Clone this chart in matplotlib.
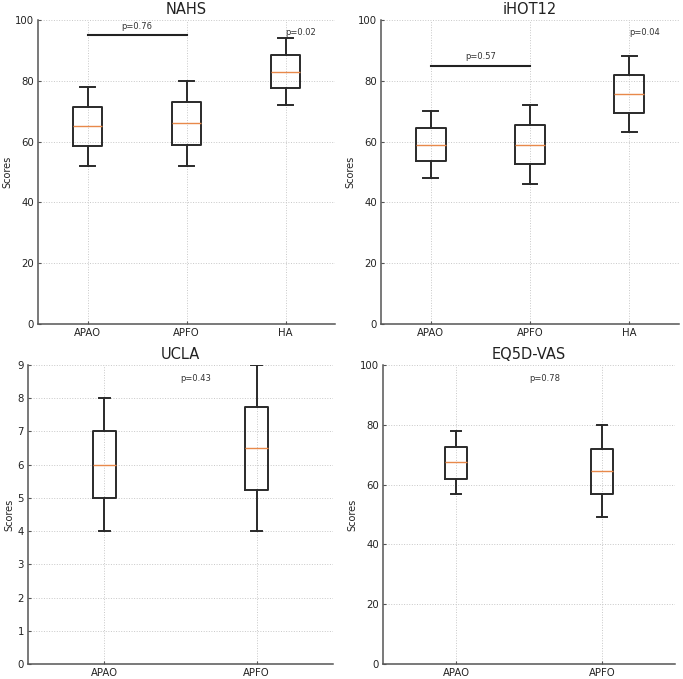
import matplotlib.pyplot as plt

# box stats: (whislo, q1, med, q3, whishi)
nahs_groups = ['APAO', 'APFO', 'HA']
nahs_stats = [(52, 58.5, 65, 71.5, 78), (52, 59, 66, 73, 80), (72, 77.5, 83, 88.5, 94)]
ihot_groups = ['APAO', 'APFO', 'HA']
ihot_stats = [(48, 53.5, 59, 64.5, 70), (46, 52.5, 59, 65.5, 72), (63, 69.5, 75.5, 82, 88)]
ucla_groups = ['APAO', 'APFO']
ucla_stats = [(4, 5, 6, 7, 8), (4, 5.25, 6.5, 7.75, 9)]
eq5d_groups = ['APAO', 'APFO']
eq5d_stats = [(57, 62, 67.5, 72.5, 78), (49, 57, 64.5, 72, 80)]

edge = '#2a2a2a'


def draw(ax, title, groups, stats, width, ylim, yticks):
    bxp = []
    for g, (lo, q1, med, q3, hi) in zip(groups, stats):
        bxp.append(dict(label=g, whislo=lo, q1=q1, med=med, q3=q3, whishi=hi, fliers=[]))
    ax.bxp(bxp, widths=width, showfliers=False,
           boxprops=dict(color=edge, linewidth=1.4),
           whiskerprops=dict(color=edge, linewidth=1.4),
           capprops=dict(color=edge, linewidth=1.4),
           medianprops=dict(color='#e8894a', linewidth=1.0))
    ax.set_title(title, fontsize=10.5, color='#222222', pad=4)
    ax.set_ylabel('Scores', fontsize=7, color='#222222', labelpad=2)
    ax.set_ylim(*ylim)
    ax.set_yticks(yticks)
    ax.grid(True, linestyle=':', color='#c8c8c8', linewidth=0.7)
    ax.set_axisbelow(True)
    for s in ['top', 'right']:
        ax.spines[s].set_visible(False)
    for s in ['left', 'bottom']:
        ax.spines[s].set_color('#555555')
        ax.spines[s].set_linewidth(1.1)
    ax.tick_params(direction='in', length=2, pad=3, labelsize=7.3, colors='#555555', labelcolor='#222222')


fig = plt.figure(figsize=(6.83, 6.79), dpi=100)
W, H = 683, 679
ax1 = fig.add_axes([38 / W, 1 - 324 / H, 297 / W, 304 / H])
ax2 = fig.add_axes([381 / W, 1 - 324 / H, 298 / W, 304 / H])
ax3 = fig.add_axes([28 / W, 1 - 664 / H, 305 / W, 299 / H])
ax4 = fig.add_axes([383 / W, 1 - 664 / H, 292 / W, 299 / H])

draw(ax1, 'NAHS', nahs_groups, nahs_stats, 0.3, (0, 100), range(0, 101, 20))
ax1.plot([1, 2], [95, 95], color='#222222', linewidth=1.5)
ax1.text(1.5, 96.5, 'p=0.76', ha='center', va='bottom', fontsize=6, color='#333333')
ax1.text(3.0, 94.5, 'p=0.02', ha='left', va='bottom', fontsize=6, color='#333333')

draw(ax2, 'iHOT12', ihot_groups, ihot_stats, 0.3, (0, 100), range(0, 101, 20))
ax2.plot([1, 2], [85, 85], color='#222222', linewidth=1.5)
ax2.text(1.5, 86.5, 'p=0.57', ha='center', va='bottom', fontsize=6, color='#333333')
ax2.text(3.0, 94.5, 'p=0.04', ha='left', va='bottom', fontsize=6, color='#333333')

draw(ax3, 'UCLA', ucla_groups, ucla_stats, 0.15, (0, 9), range(0, 10))
ax3.text(1.5, 8.45, 'p=0.43', ha='left', va='bottom', fontsize=6, color='#333333')

draw(ax4, 'EQ5D-VAS', eq5d_groups, eq5d_stats, 0.15, (0, 100), range(0, 101, 20))
ax4.text(1.5, 94, 'p=0.78', ha='left', va='bottom', fontsize=6, color='#333333')

fig.savefig('out.png', dpi=100)
